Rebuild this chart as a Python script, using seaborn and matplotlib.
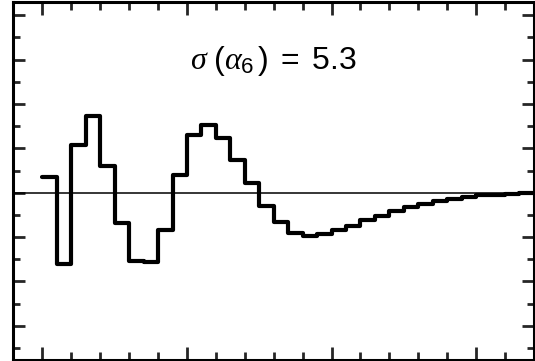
import numpy as np
import pandas as pd
import matplotlib
matplotlib.use("Agg")
import matplotlib.pyplot as plt
import seaborn as sns
from matplotlib.ticker import MultipleLocator

# step values per bin (bin width 1, 34 bins starting at 0)
bin_values = [0.35, -1.61, 1.07, 1.73, 0.60, -0.68, -1.53, -1.57, -0.84, 0.39,
              1.31, 1.52, 1.24, 0.74, 0.21, -0.29, -0.66, -0.91, -0.97, -0.93,
              -0.84, -0.74, -0.62, -0.52, -0.42, -0.32, -0.26, -0.18, -0.14, -0.09,
              -0.06, -0.04, -0.02, 0.0]
bin_edges = list(range(len(bin_values) + 1))
label_text = r"$\sigma\ (\alpha_{6}\,)\ =\ 5.3$"

# steps-post needs the last value repeated at the last edge
steps = pd.DataFrame({"x": bin_edges, "y": bin_values + [bin_values[-1]]})

sns.set_style("white")
plt.rcParams["font.family"] = ["Liberation Sans", "DejaVu Sans"]
plt.rcParams["mathtext.fontset"] = "custom"
plt.rcParams["mathtext.rm"] = "Liberation Sans"
plt.rcParams["mathtext.it"] = "Liberation Serif:italic"

fig = plt.figure(figsize=(5.35, 3.61), dpi=100)
ax = fig.add_axes([0.0252, 0.004, 0.9728, 0.9905])

ax.axhline(0, color="black", linewidth=1.1, zorder=1)
sns.lineplot(data=steps, x="x", y="y", drawstyle="steps-post", color="black",
             linewidth=3.0, ax=ax, zorder=2)

ax.set_xlim(-2, 34)
ax.set_ylim(-3.76, 4.3)
ax.xaxis.set_major_locator(MultipleLocator(10))
ax.xaxis.set_minor_locator(MultipleLocator(2))
ax.yaxis.set_major_locator(MultipleLocator(1))
ax.yaxis.set_minor_locator(MultipleLocator(0.5))
ax.tick_params(axis="x", which="major", direction="in", length=9.5, width=2,
               top=True, bottom=True, labelbottom=False)
ax.tick_params(axis="x", which="minor", direction="in", length=6, width=2,
               top=True, bottom=True)
ax.tick_params(axis="y", which="major", direction="in", length=8.5, width=2,
               left=True, right=True, labelleft=False)
ax.tick_params(axis="y", which="minor", direction="in", length=4.7, width=2,
               left=True, right=True)
ax.set_xlabel("")
ax.set_ylabel("")
for s in ax.spines.values():
    s.set_linewidth(2.2)
    s.set_color("black")

ax.text(0.5, 0.813, label_text, transform=ax.transAxes, ha="center",
        va="baseline", fontsize=23, color="black")

fig.savefig("out.png", dpi=100)
